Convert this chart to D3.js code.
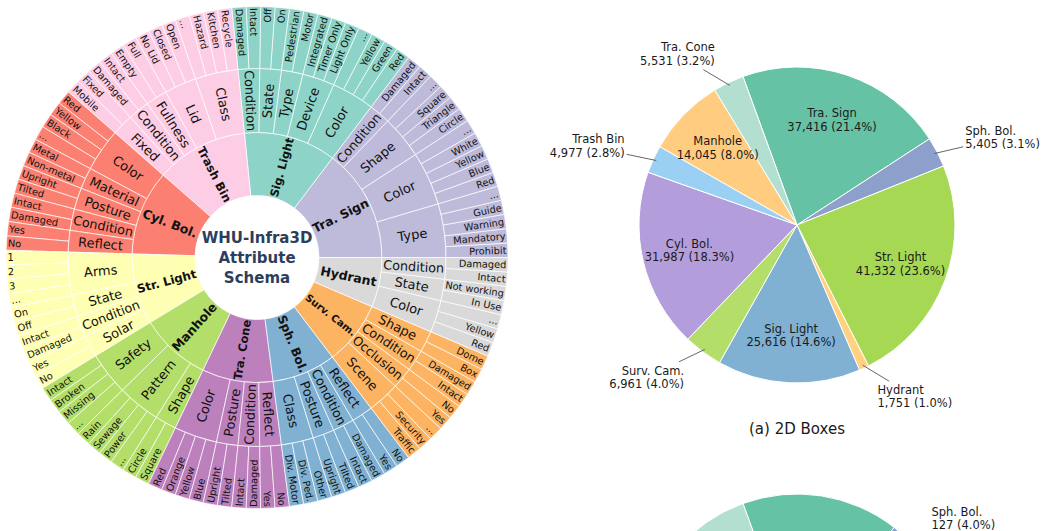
<!DOCTYPE html>
<html>
<head>
<meta charset="utf-8">
<script src="https://cdn.jsdelivr.net/npm/d3@7"></script>
<style>
  body { margin: 0; background: #fff; }
  svg { display: block; font-family: "DejaVu Sans", sans-serif; }
</style>
</head>
<body>
<svg id="chart" width="1046" height="531"></svg>
<script>
// ---- sunburst schema, listed counter-clockwise from 3 o'clock ----
const categories = ["Tra. Sign", "Sig. Light", "Trash Bin", "Cyl. Bol.", "Str. Light",
  "Manhole", "Tra. Cone", "Sph. Bol.", "Surv. Cam.", "Hydrant"];
const categoryColors = ["#bebada", "#8dd3c7", "#fccde5", "#fb8072", "#ffffb3",
  "#b3de69", "#bc80bd", "#80b1d3", "#fdb462", "#d9d9d9"];

const traSignAttrs = [
  ["Type", ["Prohibit", "Mandatory", "Warning", "Guide", "..."]],
  ["Color", ["Red", "Blue", "Yellow", "White", "..."]],
  ["Shape", ["Circle", "Triangle", "Square", "..."]],
  ["Condition", ["Intact", "Damaged"]]
];
const sigLightAttrs = [
  ["Color", ["Red", "Green", "Yellow", "..."]],
  ["Device", ["Light Only", "Timer Only", "Integrated"]],
  ["Type", ["Motor", "Pedestrian"]],
  ["State", ["On", "Off"]],
  ["Condition", ["Intact", "Damaged"]]
];
const trashBinAttrs = [
  ["Class", ["Recycle", "Kitchen", "Hazard", "..."]],
  ["Lid", ["Open", "Closed", "No Lid"]],
  ["Fullness", ["Full", "Empty"]],
  ["Condition", ["Intact", "Damaged"]],
  ["Fixed", ["Fixed", "Mobile"]]
];
const cylBolAttrs = [
  ["Color", ["Red", "Yellow", "Black", "..."]],
  ["Material", ["Metal", "Non-metal"]],
  ["Posture", ["Upright", "Tilted"]],
  ["Condition", ["Intact", "Damaged"]],
  ["Reflect", ["Yes", "No"]]
];
const strLightAttrs = [
  ["Arms", ["1", "2", "3", "..."]],
  ["State", ["On", "Off"]],
  ["Condition", ["Intact", "Damaged"]],
  ["Solar", ["Yes", "No"]]
];
const manholeAttrs = [
  ["Safety", ["Intact", "Broken", "Missing", "..."]],
  ["Pattern", ["Rain", "Sewage", "Power", "..."]],
  ["Shape", ["Circle", "Square"]]
];
const traConeAttrs = [
  ["Color", ["Red", "Orange", "Yellow", "Blue"]],
  ["Posture", ["Upright", "Tilted"]],
  ["Condition", ["Intact", "Damaged"]],
  ["Reflect", ["Yes", "No"]]
];
const sphBolAttrs = [
  ["Class", ["Div. Motor", "Div. Ped.", "Other"]],
  ["Posture", ["Upright", "Tilted"]],
  ["Condition", ["Intact", "Damaged"]],
  ["Reflect", ["Yes", "No"]]
];
const survCamAttrs = [
  ["Scene", ["Traffic", "Security", "..."]],
  ["Occlusion", ["Yes", "No"]],
  ["Condition", ["Intact", "Damaged"]],
  ["Shape", ["Box", "Dome"]]
];
const hydrantAttrs = [
  ["Color", ["Red", "Yellow", "..."]],
  ["State", ["In Use", "Not working"]],
  ["Condition", ["Intact", "Damaged"]]
];
const categoryAttrs = [traSignAttrs, sigLightAttrs, trashBinAttrs, cylBolAttrs, strLightAttrs,
  manholeAttrs, traConeAttrs, sphBolAttrs, survCamAttrs, hydrantAttrs];

// ---- pie data, listed clockwise ----
const pieLabels = ["Tra. Sign", "Sph. Bol.", "Str. Light", "Hydrant", "Sig. Light",
  "Surv. Cam.", "Cyl. Bol.", "Trash Bin", "Manhole", "Tra. Cone"];
const pieColors = ["#66c2a5", "#8da0cb", "#a6d854", "#ffd180", "#80b1d3",
  "#b3de69", "#b39ddb", "#99d0f4", "#ffcc80", "#b3dfd1"];
const boxes2d = [37416, 5405, 41332, 1751, 25616, 6961, 31987, 4977, 14045, 5531];
// second pie is mostly below the picture edge; only Tra. Sign / Sph. Bol. / Tra. Cone show
const boxes3d = [511, 127, 640, 60, 420, 140, 560, 120, 330, 267];

const width = 1046, height = 531;
const svg = d3.select("#chart");

// ================= sunburst =================
const sbCx = 257, sbCy = 257.5;
const ringRadii = [0, 62, 125, 189, 251];

const rootData = {
  name: "root",
  children: categories.map((name, i) => ({
    name,
    color: categoryColors[i],
    children: categoryAttrs[i].map(([attr, values]) => ({
      name: attr,
      children: values.map((v) => ({ name: v }))
    }))
  }))
};

const root = d3.hierarchy(rootData).sum((d) => (d.children ? 0 : 1));
d3.partition().size([2 * Math.PI, 4])(root);

const nodes = root.descendants().filter((d) => d.depth > 0);
const colorOf = (d) => d.ancestors().find((a) => a.depth === 1).data.color;

// partition x runs counter-clockwise from 3 o'clock; d3.arc wants clockwise from 12
const arc = d3.arc()
  .innerRadius((d) => ringRadii[d.depth])
  .outerRadius((d) => ringRadii[d.depth + 1])
  .startAngle((d) => Math.PI / 2 - d.x1)
  .endAngle((d) => Math.PI / 2 - d.x0);

const sb = svg.append("g").attr("transform", `translate(${sbCx},${sbCy})`);

sb.selectAll("path")
  .data(nodes)
  .enter()
  .append("path")
  .attr("d", arc)
  .attr("fill", colorOf)
  .attr("stroke", "#ffffff")
  .attr("stroke-opacity", 0.85)
  .attr("stroke-width", 0.8);

function radialLabel(d) {
  let deg = ((d.x0 + d.x1) / 2) * 180 / Math.PI;
  deg = ((deg % 360) + 360) % 360;
  const flipped = deg > 90 && deg < 270;
  return { deg, flipped, rot: flipped ? 180 - deg : -deg };
}

// ring labels shrink when they would not fit the ring width
const labelStyle = {
  1: { r: 93.5, size: 12.5, weight: 700, maxLen: 61 },
  2: { r: 157, size: 13, weight: 400, maxLen: 61 },
  3: { r: 249.5, size: 9.8, weight: 400, maxLen: 60 }
};

sb.selectAll("text.sb-label")
  .data(nodes)
  .enter()
  .append("text")
  .attr("class", "sb-label")
  .each(function (d) {
    const st = labelStyle[d.depth];
    const lab = radialLabel(d);
    const a = lab.deg * Math.PI / 180;
    const x = st.r * Math.cos(a);
    const y = -st.r * Math.sin(a);
    let anchor = "middle";
    if (d.depth === 3) anchor = lab.flipped ? "start" : "end";
    const t = d3.select(this)
      .attr("transform", `translate(${x},${y}) rotate(${lab.rot})`)
      .attr("text-anchor", anchor)
      .attr("dominant-baseline", "central")
      .attr("font-size", st.size)
      .attr("font-weight", st.weight)
      .attr("fill", "#111")
      .text(d.data.name);
    const len = this.getComputedTextLength();
    if (len > st.maxLen) t.attr("font-size", st.size * st.maxLen / len);
  });

const centerTitle = ["WHU-Infra3D", "Attribute", "Schema"];
sb.append("text")
  .attr("text-anchor", "middle")
  .attr("font-size", 15)
  .attr("font-weight", 700)
  .attr("fill", "#2c3e5c")
  .selectAll("tspan")
  .data(centerTitle)
  .enter()
  .append("tspan")
  .attr("x", 0)
  .attr("y", (d, i) => (i - 1) * 20 + 5.5)
  .text((d) => d);

// ================= pies =================
const pieR = 158;
const fmt = d3.format(",");

function drawPie(values, cx, cy, caption) {
  const total = d3.sum(values);
  const start = -20 * Math.PI / 180;
  const arcs = d3.pie().sort(null).startAngle(start).endAngle(start + 2 * Math.PI)(values);
  const pieArc = d3.arc().innerRadius(0).outerRadius(pieR);
  const g = svg.append("g").attr("transform", `translate(${cx},${cy})`);

  g.selectAll("path")
    .data(arcs)
    .enter()
    .append("path")
    .attr("d", pieArc)
    .attr("fill", (d, i) => pieColors[i])
    .attr("stroke", "#ffffff")
    .attr("stroke-width", 1);

  const lineH = 13.5;
  arcs.forEach((d, i) => {
    const pct = d.value / total * 100;
    const mid = (d.startAngle + d.endAngle) / 2;
    const dx = Math.sin(mid), dy = -Math.cos(mid);
    const lines = [pieLabels[i], `${fmt(d.value)} (${pct.toFixed(1)}%)`];
    const inside = pct >= 5;
    const rr = inside ? pieR * 0.7 : pieR * 1.2;
    const ax = dx * rr, ay = dy * rr;
    // labels that fall below the picture edge are not drawn
    if (cy + ay - lineH > height - 4) return;
    const anchor = inside ? "middle" : (dx < 0 ? "end" : "start");

    const t = g.append("text")
      .attr("text-anchor", anchor)
      .attr("font-size", 11.5)
      .attr("fill", "#1a1a1a");
    t.selectAll("tspan")
      .data(lines)
      .enter()
      .append("tspan")
      .attr("x", ax)
      .attr("y", (s, k) => ay + (k - 0.5) * lineH)
      .attr("dominant-baseline", "central")
      .text((s) => s);

    if (!inside) {
      const w = t.node().getBBox().width;
      const h = lineH * 2;
      const bx = anchor === "end" ? ax - w / 2 : ax + w / 2;
      const px = dx * pieR * 0.98, py = dy * pieR * 0.98;
      const vx = px - bx, vy = py - ay;
      const pad = 2;
      const tt = Math.min((w / 2 + pad) / Math.abs(vx || 1e-9), (h / 2 + pad) / Math.abs(vy || 1e-9));
      g.append("line")
        .attr("x1", bx + vx * tt)
        .attr("y1", ay + vy * tt)
        .attr("x2", px)
        .attr("y2", py)
        .attr("stroke", "#555")
        .attr("stroke-width", 0.9);
    }
  });

  if (caption) {
    g.append("text")
      .attr("x", 0)
      .attr("y", pieR + 50.5)
      .attr("text-anchor", "middle")
      .attr("font-size", 15)
      .attr("fill", "#1a1a1a")
      .text(caption);
  }
}

drawPie(boxes2d, 797, 225, "(a) 2D Boxes");
drawPie(boxes3d, 797, 652, null);
</script>
</body>
</html>
